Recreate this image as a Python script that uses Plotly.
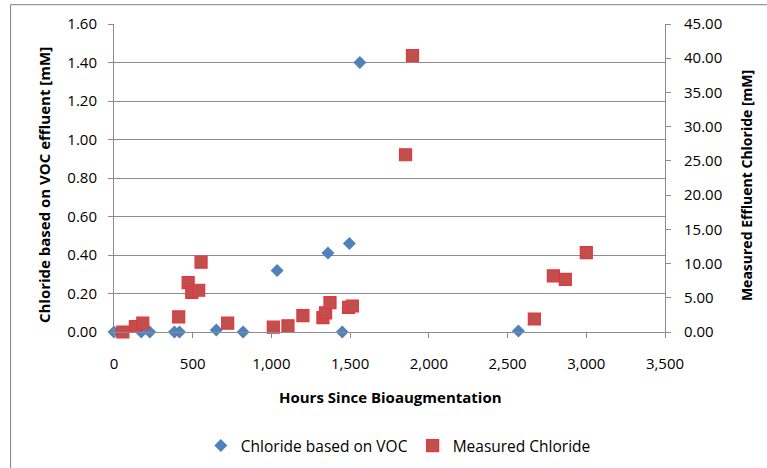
import plotly.graph_objects as go

# Chloride estimated from VOC dechlorination (left axis, mM)
voc_hours = [0, 173, 227, 384, 416, 650, 820, 1036, 1359, 1450, 1495, 1562, 2569]
voc_chloride = [0.0, 0.0, 0.0, 0.0, 0.0, 0.01, 0.0, 0.32, 0.41, 0.0, 0.46, 1.40, 0.005]

# Measured effluent chloride (right axis, mM)
measured_hours = [56, 136, 183, 411, 471, 494, 538, 553, 722, 1012, 1105, 1200,
                  1327, 1344, 1372, 1490, 1514, 1852, 1896, 2670, 2791, 2867, 3000]
measured_chloride = [0.0, 0.8, 1.3, 2.2, 7.2, 5.8, 6.1, 10.2, 1.3, 0.7, 0.9, 2.4,
                     2.1, 2.8, 4.3, 3.6, 3.8, 25.9, 40.4, 1.9, 8.2, 7.7, 11.6]

x_title = "Hours Since Bioaugmentation"
y_left_title = "Chloride based on VOC effluent [mM]"
y_right_title = "Measured Effluent Chloride [mM]"

FONT = "Open Sans"
GRID = "#8c8c8c"

fig = go.Figure()
fig.add_trace(go.Scatter(
    x=voc_hours, y=voc_chloride, mode="markers", name="Chloride based on VOC",
    marker=dict(symbol="diamond", size=10, color="#4F81BD", line=dict(width=0)),
    cliponaxis=False, yaxis="y",
))
fig.add_trace(go.Scatter(
    x=measured_hours, y=measured_chloride, mode="markers", name="Measured Chloride",
    marker=dict(symbol="square", size=12, color="#C0504D",
                line=dict(width=1.2, color="#E8343C")),
    cliponaxis=False, yaxis="y2",
))

tick_font = dict(family=FONT, size=15, color="#000000")


def title_font(size):
    return dict(family=FONT, size=size, color="#000000", weight="bold")


fig.update_layout(
    width=767, height=468,
    margin=dict(l=114, r=102, t=24, b=136, autoexpand=False),
    paper_bgcolor="white", plot_bgcolor="white",
    showlegend=True,
    legend=dict(orientation="h", x=0.516, xanchor="center",
                yref="container", y=0.047, yanchor="middle",
                font=dict(family=FONT, size=15.5, color="#000000"),
                itemwidth=30, tracegroupgap=0, bgcolor="rgba(0,0,0,0)"),
    xaxis=dict(
        range=[0, 3500], dtick=500, tickformat=",", tickfont=tick_font,
        showgrid=False, zeroline=False, showline=True, linecolor=GRID, linewidth=1,
        ticks="outside", ticklen=5, tickcolor=GRID, ticklabelstandoff=13,
        automargin=False,
    ),
    yaxis=dict(
        range=[0, 1.6], dtick=0.2, tickformat=".2f", tickfont=tick_font,
        showgrid=True, gridcolor=GRID, gridwidth=1, zeroline=False,
        showline=True, linecolor=GRID, linewidth=1,
        ticks="outside", ticklen=5, tickcolor=GRID, ticklabelstandoff=8,
        automargin=False,
    ),
    yaxis2=dict(
        range=[0, 45], dtick=5, tickformat=".2f", tickfont=tick_font,
        overlaying="y", side="right", showgrid=False, zeroline=False,
        showline=True, linecolor=GRID, linewidth=1,
        ticks="outside", ticklen=5, tickcolor=GRID, ticklabelstandoff=10,
        automargin=False,
    ),
    annotations=[
        dict(text=x_title, xref="paper", yref="paper", x=0.501, y=-0.212,
             xanchor="center", yanchor="middle", showarrow=False, font=title_font(15)),
        dict(text=y_left_title, xref="paper", yref="paper", x=-0.127, y=0.477,
             xanchor="center", yanchor="middle", textangle=-90, showarrow=False,
             font=title_font(15)),
        dict(text=y_right_title, xref="paper", yref="paper", x=1.147, y=0.477,
             xanchor="center", yanchor="middle", textangle=-90, showarrow=False,
             font=title_font(14)),
    ],
    shapes=[dict(type="rect", xref="paper", yref="paper",
                 x0=-0.1877, x1=1.25, y0=-0.5, y1=1.0627,
                 line=dict(color="#7f7f7f", width=1), fillcolor="rgba(0,0,0,0)",
                 layer="below")],
)

fig.write_html("out.html")
